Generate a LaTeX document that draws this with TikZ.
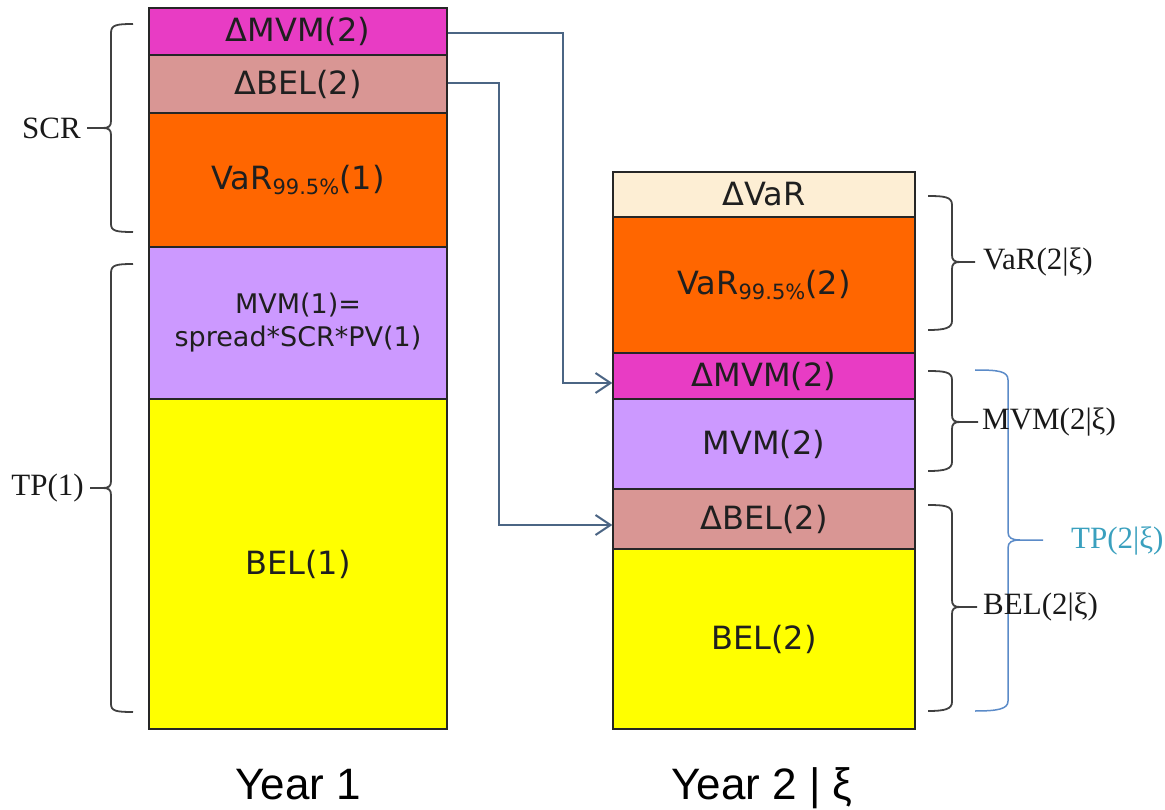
\documentclass[tikz,border=0pt]{standalone}
\usepackage{fontspec}
\setmainfont{Liberation Serif}
\newfontfamily\boxfont{DejaVu Sans}
\newfontfamily\yearfont{Liberation Sans}
\usetikzlibrary{arrows.meta}

\definecolor{cMag}{HTML}{E83CC4}
\definecolor{cRose}{HTML}{D99694}
\definecolor{cOrange}{HTML}{FF6600}
\definecolor{cLav}{HTML}{CC99FF}
\definecolor{cYellow}{HTML}{FFFF00}
\definecolor{cPeach}{HTML}{FDEED4}
\definecolor{cLink}{HTML}{4B6584}
\definecolor{cBrace}{HTML}{404040}
\definecolor{cBlue}{HTML}{5B8BC8}
\definecolor{cTeal}{HTML}{3AA0BE}

\newcommand{\subpct}{\raisebox{-0.28ex}{\fontsize{21}{21}\selectfont 99.5\%}}

\begin{document}
\begin{tikzpicture}[x=1pt,y=-1pt,
  block/.style={draw=black!85, line width=1.4pt, inner sep=0pt,
    text=black!88, font=\boxfont\fontsize{32}{36}\selectfont},
  leftcol/.style={block, minimum width=298pt},
  rightcol/.style={block, minimum width=302pt},
  link/.style={draw=cLink, line width=2pt,
    -{Straight Barb[length=15pt,width=20pt,line width=2pt]}},
  bracegray/.style={draw=cBrace, line width=1.8pt},
  braceblue/.style={draw=cBlue, line width=1.5pt},
  lab/.style={font=\fontsize{31}{34}\selectfont, text=black!90, inner sep=0pt},
  yearlab/.style={font=\yearfont\fontsize{44}{48}\selectfont, inner sep=0pt}]

\useasboundingbox (0,0) rectangle (1165,810);

% ---- Year 1 column ----
\node[leftcol, fill=cMag,    minimum height=47pt]  (lmvm)  at (298,31.5) {ΔMVM(2)};
\node[leftcol, fill=cRose,   minimum height=58pt]  (lbel)  at (298,84)   {ΔBEL(2)};
\node[leftcol, fill=cOrange, minimum height=134pt] (lvar)  at (298,180)  {VaR\subpct(1)};
\node[leftcol, fill=cLav,    minimum height=152pt, align=center,
      font=\boxfont\fontsize{27}{33}\selectfont] (lmvmone) at (298,323)
      {MVM(1)=\\spread*SCR*PV(1)};
\node[leftcol, fill=cYellow, minimum height=330pt] (lbelone) at (298,564) {BEL(1)};

% ---- Year 2 column ----
\node[rightcol, fill=cPeach,  minimum height=45pt]  (rdvar) at (764,194.5) {ΔVaR};
\node[rightcol, fill=cOrange, minimum height=136pt] (rvar)  at (764,285)   {VaR\subpct(2)};
\node[rightcol, fill=cMag,    minimum height=46pt]  (rdmvm) at (764,376)   {ΔMVM(2)};
\node[rightcol, fill=cLav,    minimum height=90pt]  (rmvm)  at (764,444)   {MVM(2)};
\node[rightcol, fill=cRose,   minimum height=60pt]  (rdbel) at (764,519)   {ΔBEL(2)};
\node[rightcol, fill=cYellow, minimum height=180pt] (rbel)  at (764,639)   {BEL(2)};

% ---- carried-over increments ----
\draw[link] ([yshift=-1.5pt]lmvm.east) -- (563,33) |- ([yshift=-7pt]rdmvm.west);
\draw[link] ([yshift=1pt]lbel.east) -- (499,83) |- ([yshift=-6pt]rdbel.west);

% ---- left braces ----
\draw[bracegray] (133,24) .. controls (116,24) and (111,25) .. (111,33)
  -- (111,121) .. controls (111,126) and (109,128) .. (103,128) -- (87,128);
\draw[bracegray] (103,128) .. controls (109,128) and (111,130) .. (111,135)
  -- (111,224) .. controls (111,231) and (116,232) .. (133,232);
\node[lab, anchor=east] (scr) at (81,128) {SCR};

\draw[bracegray] (133,264) .. controls (116,264) and (111,265) .. (111,273)
  -- (111,481) .. controls (111,486) and (109,488) .. (103,488) -- (90,488);
\draw[bracegray] (103,488) .. controls (109,488) and (111,490) .. (111,495)
  -- (111,704) .. controls (111,711) and (116,712) .. (133,712);
\node[lab, anchor=east] (tpone) at (84,488) {TP(1)};

% ---- right braces ----
\draw[bracegray] (928,196) .. controls (945,196) and (952,197) .. (952,205)
  -- (952,255) .. controls (952,260) and (954,262) .. (960,262) -- (975,262);
\draw[bracegray] (960,262) .. controls (954,262) and (952,264) .. (952,269)
  -- (952,321) .. controls (952,328) and (945,330) .. (928,330);
\node[lab, anchor=west] (varxi) at (983,262) {VaR(2|ξ)};

\draw[bracegray] (928,371) .. controls (945,371) and (952,372) .. (952,380)
  -- (952,415) .. controls (952,420) and (954,422) .. (960,422) -- (978,422);
\draw[bracegray] (960,422) .. controls (954,422) and (952,424) .. (952,429)
  -- (952,462) .. controls (952,469) and (945,471) .. (928,471);

\draw[bracegray] (928,505) .. controls (945,505) and (952,506) .. (952,514)
  -- (952,600) .. controls (952,605) and (954,607) .. (960,607) -- (977,607);
\draw[bracegray] (960,607) .. controls (954,607) and (952,609) .. (952,614)
  -- (952,702) .. controls (952,709) and (945,711) .. (928,711);

\draw[braceblue] (975,370) .. controls (998,370) and (1008,371) .. (1008,380)
  -- (1008,532) .. controls (1008,538) and (1012,540) .. (1020,540) -- (1043,540);
\draw[braceblue] (1020,540) .. controls (1012,540) and (1008,542) .. (1008,548)
  -- (1008,701) .. controls (1008,709) and (998,711) .. (975,711);

\node[lab, anchor=west] (mvmxi) at (982,422) {MVM(2|ξ)};
\node[lab, anchor=west] (belxi) at (983,607) {BEL(2|ξ)};
\node[lab, anchor=west, text=cTeal] (tpxi) at (1071,541) {TP(2|ξ)};

% ---- column captions ----
\node[yearlab, anchor=base] (yone) at (298,799) {Year 1};
\node[yearlab, anchor=base] (ytwo) at (762,799) {Year 2 | ξ};

\end{tikzpicture}
\end{document}
